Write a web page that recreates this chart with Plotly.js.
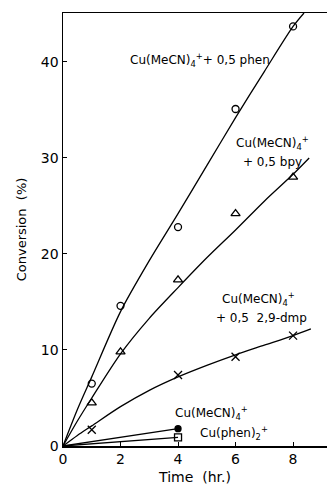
<!DOCTYPE html>
<html><head><meta charset="utf-8">
<script src="https://cdn.plot.ly/plotly-3.0.1.min.js"></script>
<style>html,body{margin:0;padding:0;background:#fff;}#chart{width:327px;height:485px;}</style>
</head><body><div id="chart"></div>
<script>
// Measured points
var timeAll = [1, 2, 4, 6, 8];
var phenY = [6.5, 14.6, 22.8, 35.1, 43.7];
var bpyY = [4.5, 9.8, 17.3, 24.2, 28.0];
var dmpY = [1.7, 7.4, 9.3, 11.5];
var dmpX = [1, 4, 6, 8];
var meCNX = [4];
var meCNY = [1.8];
var phen2X = [4];
var phen2Y = [0.9];

// Fitted curves as drawn in the figure
var fitPhenX = [0, 0.5, 1, 2, 3, 4, 5, 6, 7, 8, 8.38];
var fitPhenY = [0, 3.8, 7.2, 14.0, 19.3, 24.2, 29.2, 34.2, 39.0, 43.7, 45.1];
var fitBpyX = [0, 0.5, 1, 2, 3, 4, 5, 6, 7, 8, 8.56];
var fitBpyY = [0, 2.6, 5.0, 9.6, 13.3, 16.5, 19.6, 22.5, 25.5, 28.3, 30.0];
var fitDmpX = [0, 0.5, 1, 2, 3, 4, 5, 6, 7, 8, 8.62];
var fitDmpY = [0, 1.1, 2.1, 4.1, 5.8, 7.2, 8.4, 9.5, 10.5, 11.5, 12.2];
var fitMeCNX = [0, 4];
var fitMeCNY = [0, 1.8];
var fitPhen2X = [0, 4];
var fitPhen2Y = [0, 0.9];

var FONT = 'DejaVu Sans, sans-serif';
function line(x, y) {
  return {x: x, y: y, mode: 'lines', type: 'scatter', line: {color: '#000', width: 1.3, shape: 'spline', smoothing: 0.8}, hoverinfo: 'skip', showlegend: false};
}
function pts(x, y, sym, size) {
  return {x: x, y: y, mode: 'markers', type: 'scatter', marker: {symbol: sym, size: size, color: '#000', line: {color: '#000', width: 1.3}}, showlegend: false, cliponaxis: false};
}
var data = [
  line(fitPhenX, fitPhenY), line(fitBpyX, fitBpyY), line(fitDmpX, fitDmpY),
  line(fitMeCNX, fitMeCNY), line(fitPhen2X, fitPhen2Y),
  pts(timeAll, phenY, 'circle-open', 7),
  pts(timeAll, bpyY, 'triangle-up-open', 8),
  pts(dmpX, dmpY, 'x-thin-open', 8),
  pts(meCNX, meCNY, 'circle', 6),
  pts(phen2X, phen2Y, 'square-open', 7)
];
var ann = function(x, y, t) {
  return {x: x, y: y, xref: 'x', yref: 'y', text: t, showarrow: false, font: {family: FONT, size: 12, color: '#000'}};
};
var layout = {
  width: 327, height: 485,
  margin: {l: 63, r: 0, t: 13, b: 39},
  paper_bgcolor: '#fff', plot_bgcolor: '#fff',
  font: {family: FONT, color: '#000', size: 13},
  xaxis: {range: [0, 9.18], tickvals: [0, 2, 4, 6, 8], ticks: 'inside', ticklen: 4, tickcolor: '#000',
    showline: true, linecolor: '#000', linewidth: 1.5, mirror: true, showgrid: false, zeroline: false,
    tickfont: {family: FONT, size: 14}, title: {text: 'Time  (hr.)', font: {family: FONT, size: 14}, standoff: 9}},
  yaxis: {range: [0, 45.1], tickvals: [0, 10, 20, 30, 40], ticks: 'inside', ticklen: 4, tickcolor: '#000',
    showline: true, linecolor: '#000', linewidth: 1.5, showgrid: false, zeroline: false,
    tickfont: {family: FONT, size: 14}, title: {text: 'Conversion  (%)', font: {family: FONT, size: 13}, standoff: 11}},
  annotations: [
    ann(4.77, 40.2, 'Cu(MeCN)<sub>4</sub><sup>+</sup>+ 0,5 phen'),
    ann(7.27, 31.6, 'Cu(MeCN)<sub>4</sub><sup>+</sup>'),
    ann(7.27, 29.6, '+ 0,5 bpy'),
    ann(6.8, 15.3, 'Cu(MeCN)<sub>4</sub><sup>+</sup>'),
    ann(6.9, 13.3, '+ 0,5  2,9-dmp'),
    ann(5.15, 3.4, 'Cu(MeCN)<sub>4</sub><sup>+</sup>'),
    ann(5.93, 1.4, 'Cu(phen)<sub>2</sub><sup>+</sup>')
  ]
};
Plotly.newPlot('chart', data, layout, {staticPlot: true, displayModeBar: false});
</script></body></html>
